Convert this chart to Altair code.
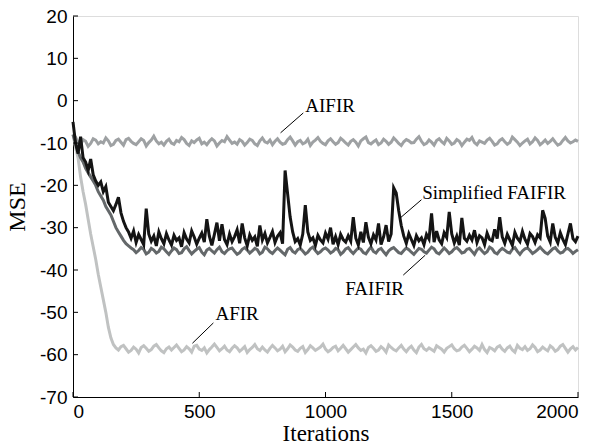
import altair as alt
import pandas as pd

iterations = list(range(0, 2001, 10))

aifir = [
    -8.0, -8.6, -9.9, -10.4, -9.2, -9.6, -10.8, -10.1, -9.0, -9.3,
    -10.2, -9.7, -10.0, -8.8, -9.5, -10.6, -10.3, -9.4, -9.1, -9.8,
    -10.5, -9.2, -8.9, -9.6, -10.1, -10.4, -9.7, -9.0, -9.4, -10.7,
    -9.9, -9.3, -8.4, -9.5, -10.2, -9.8, -10.5, -9.6, -9.1, -10.0,
    -10.3, -9.4, -9.7, -8.7, -9.2, -10.1, -10.6, -9.5, -9.9, -9.3,
    -8.9, -10.2, -9.8, -10.4, -9.6, -9.0, -9.5, -10.7, -10.0, -9.4,
    -9.7, -8.5, -9.3, -10.1, -9.8, -10.3, -9.2, -9.6, -10.5, -9.9,
    -9.1, -9.4, -10.2, -10.6, -9.5, -8.8, -9.7, -10.0, -9.3, -10.4,
    -9.6, -9.0, -9.8, -10.3, -10.1, -9.2, -8.6, -9.5, -10.5, -9.7,
    -9.4, -10.2, -9.9, -9.1, -10.6, -9.8, -9.3, -8.7, -9.6, -10.1,
    -10.4, -9.5, -9.0, -9.7, -10.3, -9.9, -8.9, -9.4, -10.0, -10.5,
    -9.6, -9.2, -9.8, -10.7, -9.5, -9.0, -8.6, -9.9, -10.2, -9.7,
    -9.3, -10.4, -10.0, -9.1, -9.6, -10.3, -9.8, -8.8, -9.4, -10.1,
    -10.6, -9.7, -9.2, -9.5, -10.0, -9.9, -9.1, -8.5, -9.6, -10.4,
    -10.1, -9.3, -9.8, -10.5, -9.4, -9.0, -9.7, -10.2, -8.9, -9.5,
    -10.3, -10.0, -9.2, -9.6, -10.6, -9.8, -9.1, -9.4, -8.7, -9.9,
    -10.4, -9.5, -9.8, -10.1, -9.3, -8.9, -9.6, -10.5, -10.2, -9.4,
    -9.0, -9.7, -10.3, -9.9, -8.6, -9.2, -9.8, -10.6, -10.0, -9.5,
    -9.1, -10.2, -9.7, -8.8, -9.4, -10.4, -9.9, -9.3, -10.1, -9.6,
    -9.0, -9.8, -10.5, -10.2, -9.4, -8.7, -9.5, -10.0, -9.7, -9.3, -9.6,
]

afir = [
    -8.0, -11.0, -13.5, -18.0, -21.5, -24.5, -28.0, -31.5, -34.5, -37.5,
    -41.0, -44.0, -47.0, -50.0, -53.5, -56.0, -57.6, -58.4, -58.9, -58.1,
    -57.8, -58.6, -59.4, -59.0, -58.2, -58.7, -59.6, -58.3, -57.9, -58.5,
    -59.2, -58.8, -58.0, -57.6, -58.4, -59.1, -59.5, -58.6, -58.2, -58.9,
    -58.3, -57.7, -58.5, -59.3, -58.9, -58.1, -58.6, -59.4, -58.0, -57.8,
    -58.7, -59.0, -58.4, -59.6, -58.8, -58.2, -57.5, -58.3, -59.1, -58.6,
    -58.0, -58.9, -59.3, -58.5, -57.9, -58.4, -59.2, -58.7, -58.1, -59.5,
    -58.8, -58.3, -57.6, -58.6, -59.0, -58.2, -58.9, -59.4, -58.5, -57.8,
    -58.4, -59.1, -58.7, -58.0, -59.3, -58.6, -57.7, -58.2, -58.9, -59.2,
    -58.5, -58.1, -59.5, -58.8, -57.9, -58.4, -59.0, -58.6, -58.2, -57.5,
    -58.7, -59.3, -58.9, -58.3, -58.0, -59.1, -58.5, -57.8, -58.6, -59.4,
    -58.8, -58.2, -57.6, -58.4, -59.0, -58.7, -59.6, -58.3, -57.9, -58.5,
    -59.2, -58.9, -58.1, -58.6, -59.4, -57.7, -58.3, -58.8, -59.1, -58.4,
    -57.8, -58.7, -59.3, -58.5, -58.0, -58.9, -59.5, -58.2, -57.6, -58.6,
    -59.0, -58.4, -58.8, -59.2, -57.9, -58.3, -58.7, -59.4, -58.5, -58.1,
    -57.7, -58.6, -59.1, -58.9, -58.2, -57.8, -58.5, -59.3, -58.7, -58.0,
    -58.4, -59.0, -57.6, -58.8, -59.5, -58.3, -58.6, -59.1, -58.2, -57.9,
    -58.7, -59.2, -58.4, -58.0, -58.9, -59.4, -57.8, -58.5, -58.8, -58.1,
    -59.0, -58.6, -57.7, -58.3, -59.3, -58.9, -58.2, -58.7, -59.1, -57.9,
    -58.4, -59.2, -58.8, -58.0, -57.6, -58.5, -59.4, -58.6, -58.1, -58.9, -58.3,
]

faifir = [
    -8.0, -10.0, -12.0, -13.5, -14.5, -16.0, -17.0, -18.0, -19.0, -20.0,
    -21.5, -22.5, -23.5, -25.0, -26.0, -27.0, -28.5, -30.0, -31.0, -32.0,
    -33.0, -33.8, -34.3, -34.8, -35.2, -35.9, -35.4, -34.7, -35.1, -36.2,
    -35.8, -34.9, -35.3, -36.0, -35.6, -34.6, -35.0, -35.7, -36.3, -35.5,
    -34.8, -35.2, -36.1, -35.9, -35.0, -34.5, -35.4, -36.2, -35.6, -35.1,
    -34.7, -35.8, -36.4, -35.3, -34.9, -35.5, -36.0, -35.2, -34.6, -35.7,
    -36.1, -35.4, -35.0, -34.8, -35.6, -36.3, -35.9, -35.1, -34.7, -35.3,
    -36.0, -35.5, -34.9, -35.2, -36.2, -35.8, -34.6, -35.0, -35.7, -36.1,
    -35.4, -34.8, -35.3, -35.9, -36.4, -35.1, -34.7, -35.6, -36.0, -35.2,
    -34.9, -35.5, -36.2, -35.8, -35.0, -34.6, -35.4, -36.1, -35.7, -35.1,
    -34.8, -35.3, -36.0, -35.6, -34.9, -35.2, -36.3, -35.8, -35.0, -34.7,
    -35.5, -36.1, -35.4, -34.8, -35.1, -35.9, -36.2, -35.3, -34.6, -35.6,
    -36.0, -35.2, -34.9, -35.7, -36.4, -35.5, -35.0, -34.7, -35.3, -35.9,
    -36.1, -35.4, -34.8, -35.2, -35.8, -36.3, -35.6, -34.9, -35.1, -35.7,
    -36.0, -35.3, -34.6, -35.0, -35.9, -36.2, -35.5, -34.8, -35.4, -36.1,
    -35.7, -35.0, -34.7, -35.3, -36.0, -35.8, -35.1, -34.9, -35.6, -36.3,
    -35.2, -34.8, -35.5, -36.1, -35.7, -34.6, -35.0, -35.9, -36.2, -35.4,
    -34.9, -35.3, -35.8, -36.0, -35.1, -34.7, -35.6, -36.3, -35.5, -35.0,
    -34.8, -35.4, -36.1, -35.7, -35.2, -34.6, -35.3, -35.9, -36.2, -35.6,
    -35.0, -34.7, -35.5, -36.0, -35.8, -35.1, -34.9, -35.4, -36.1, -35.6, -35.2,
]

simplified_faifir = [
    -5.0, -10.0, -12.5, -8.5, -13.5, -14.5, -16.5, -13.8, -17.5, -19.0,
    -20.0, -19.2, -21.5, -20.3, -24.0, -25.0, -26.0, -24.5, -22.8, -26.5,
    -28.5, -30.0, -31.0, -32.5, -30.8, -33.5, -31.6, -32.8, -34.0, -25.5,
    -31.5, -33.2, -32.0, -34.3, -31.0, -32.6, -33.8, -31.4, -32.9, -34.1,
    -31.8, -33.0, -32.4, -34.5, -31.2, -32.7, -33.6, -30.8, -32.2, -33.9,
    -32.5, -31.3, -33.4, -28.0, -32.0, -34.2, -31.6, -28.8, -33.1, -29.2,
    -32.8, -34.0, -31.5, -33.3, -32.1, -30.5, -33.7, -29.0, -32.4, -34.3,
    -31.7, -33.0, -32.2, -34.4, -29.5, -32.9, -31.4, -33.6, -32.3, -30.9,
    -33.5, -32.0, -31.2, -33.8, -16.5, -22.0, -27.5, -31.0, -33.3, -32.6,
    -34.1, -31.5, -24.7, -31.0, -33.0, -32.4, -34.2, -31.8, -32.9, -33.6,
    -31.3, -32.7, -30.0, -33.9, -32.1, -34.0, -31.6, -32.8, -33.4, -31.9,
    -33.2, -27.5, -32.5, -34.1, -31.0, -33.5, -28.7, -32.3, -33.8, -31.7,
    -32.9, -29.0, -34.0, -32.2, -29.4, -33.3, -31.5, -20.6, -21.8, -26.0,
    -29.5, -32.0, -33.7, -31.4, -32.8, -34.2, -31.9, -33.1, -32.4, -34.0,
    -31.6, -32.7, -26.6, -33.4, -30.8, -32.9, -33.8, -31.2, -32.3, -26.3,
    -31.5, -33.6, -32.0, -34.1, -27.7, -32.5, -33.2, -31.8, -32.9, -30.6,
    -33.5, -31.9, -32.4, -34.0, -31.3, -32.8, -33.1, -30.4, -32.6, -27.5,
    -32.2, -33.7, -31.6, -32.9, -34.2, -31.1, -32.5, -33.3, -30.9, -32.7,
    -33.9, -31.4, -32.1, -33.5, -31.7, -32.4, -25.9, -27.8, -32.0, -33.4,
    -29.0, -32.3, -33.6, -31.2, -32.8, -34.0, -31.5, -29.0, -32.6, -33.3, -32.0,
]

series_names = ["AIFIR", "AFIR", "FAIFIR", "Simplified FAIFIR"]
series_values = [aifir, afir, faifir, simplified_faifir]
series_colors = ["#9ea1a3", "#c0c2c2", "#64686a", "#141414"]

# annotation labels: text anchor and leader line ends (data coordinates)
label_text = ["AIFIR", "FAIFIR", "AFIR", "Simplified FAIFIR"]
label_x = [920, 1078, 564, 1383]
label_y = [-2.7, -45.9, -51.8, -23.2]
leader_x1 = [822, 1395, 473, 1296]
leader_y1 = [-7.6, -36.5, -57.3, -27.7]
leader_x2 = [912, 1308, 556, 1380]
leader_y2 = [-2.9, -41.2, -52.5, -23.4]

x_ticks = [0, 500, 1000, 1500, 2000]
y_ticks = [-70, -60, -50, -40, -30, -20, -10, 0, 10, 20]

rows = []
for name, vals in zip(series_names, series_values):
    for it, v in zip(iterations, vals):
        rows.append({"it": it, "mse": v, "series": name})
df = pd.DataFrame(rows)

xscale = alt.Scale(domain=[0, 2000], nice=False, zero=False)
yscale = alt.Scale(domain=[-70, 20], nice=False, zero=False)

x_axis = alt.Axis(
    values=x_ticks, tickSize=0, grid=False, domainColor="black",
    labelFont="Liberation Sans", labelFontSize=19, labelColor="black",
    labelPadding=5, labelExpr="'' + datum.value",
    title="Iterations", titleFont="Liberation Serif",
    titleFontSize=23, titleFontWeight="normal", titleColor="black",
    titlePadding=1,
)
y_axis = alt.Axis(
    values=y_ticks, tickSize=0, grid=False, domainColor="black",
    labelFont="Liberation Sans", labelFontSize=19, labelColor="black",
    labelPadding=6,
    labelExpr="datum.value < 0 ? '-' + abs(datum.value) : '' + datum.value",
    title="MSE", titleFont="Liberation Serif", titleFontSize=24,
    titleFontWeight="normal", titleColor="black", titlePadding=10,
)


def X(field):
    return alt.X(field, type="quantitative", scale=xscale, axis=x_axis)


def Y(field):
    return alt.Y(field, type="quantitative", scale=yscale, axis=y_axis)


layers = []
for name, col in zip(series_names, series_colors):
    layers.append(
        alt.Chart(df).transform_filter(alt.datum.series == name)
        .mark_line(color=col, strokeWidth=3, interpolate="linear")
        .encode(x=X("it"), y=Y("mse"))
    )

lab_df = pd.DataFrame({
    "t": label_text, "x": label_x, "y": label_y,
    "x1": leader_x1, "y1": leader_y1, "x2": leader_x2, "y2": leader_y2,
})
leaders = alt.Chart(lab_df).mark_rule(color="black", strokeWidth=1).encode(
    x=X("x1"), y=Y("y1"), x2="x2:Q", y2="y2:Q",
)
texts = alt.Chart(lab_df).mark_text(
    font="Liberation Serif", fontSize=19, color="black",
    align="left", baseline="alphabetic",
).encode(x=X("x"), y=Y("y"), text="t:N")

xt_df = pd.DataFrame({"v": x_ticks})
yt_df = pd.DataFrame({"v": y_ticks})
xticks = alt.Chart(xt_df).mark_rule(color="black", strokeWidth=1).encode(
    x=X("v"), y=alt.value(376), y2=alt.value(381),
)
yticks = alt.Chart(yt_df).mark_rule(color="black", strokeWidth=1).encode(
    y=Y("v"), x=alt.value(0), x2=alt.value(5),
)

chart = alt.layer(*layers, leaders, texts, xticks, yticks).properties(
    width=505, height=381,
    autosize=alt.AutoSizeParams(type="none"),
    padding={"left": 65, "top": 8, "right": 11, "bottom": 48},
).configure_view(stroke="#333", strokeWidth=1).configure(background="white")

chart.save("out.html", embed_options={"renderer": "svg", "actions": False})
